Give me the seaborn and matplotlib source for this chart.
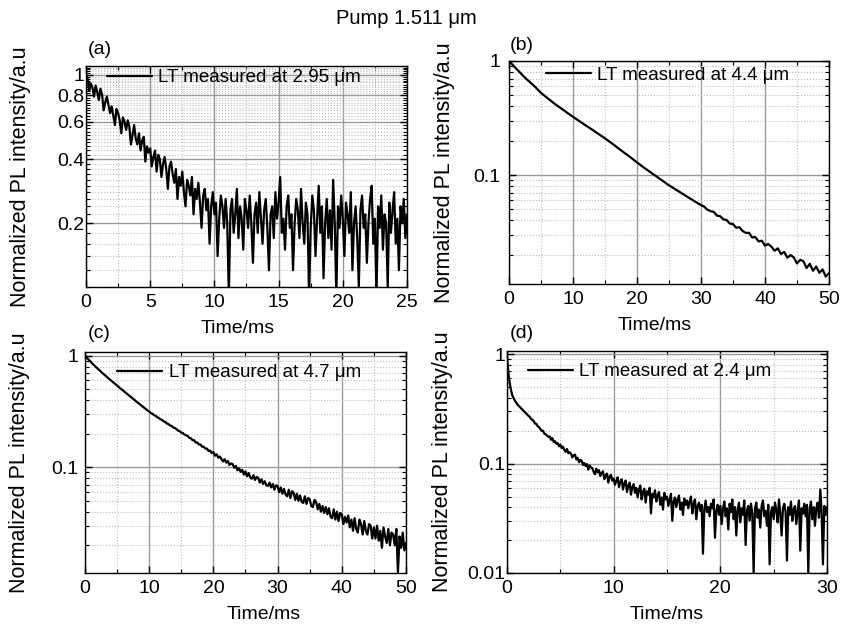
#%% Loading libraries
import numpy as np
import seaborn as sns
import matplotlib.pyplot as plt
from matplotlib.ticker import (FixedLocator, MultipleLocator, LogLocator,
                               NullFormatter, FuncFormatter)

#%% Data (normalized PL decay curves)
# (a) 2.95 um, sampled every 0.125 ms
pl_a = [1.0, 0.96, 0.84, 0.91, 0.87, 0.79, 0.89, 0.83,
        0.76, 0.86, 0.81, 0.68, 0.74, 0.79, 0.72, 0.66,
        0.71, 0.64, 0.58, 0.69, 0.66, 0.61, 0.53, 0.63,
        0.6, 0.55, 0.61, 0.57, 0.47, 0.52, 0.58, 0.5,
        0.47, 0.53, 0.44, 0.49, 0.51, 0.39, 0.46, 0.43,
        0.45, 0.37, 0.41, 0.44, 0.35, 0.42, 0.4, 0.33,
        0.38, 0.41, 0.36, 0.29, 0.37, 0.39, 0.34, 0.31,
        0.36, 0.26, 0.33, 0.3, 0.35, 0.28, 0.24, 0.32,
        0.3, 0.27, 0.33, 0.22, 0.29, 0.26, 0.31, 0.25,
        0.19, 0.27, 0.29, 0.23, 0.26, 0.16, 0.24, 0.28,
        0.22, 0.25, 0.14, 0.21, 0.27, 0.24, 0.19, 0.26,
        0.2, 0.09, 0.23, 0.26, 0.18, 0.22, 0.29, 0.17,
        0.24, 0.21, 0.15, 0.26, 0.23, 0.19, 0.27, 0.2,
        0.13, 0.22, 0.25, 0.18, 0.28, 0.21, 0.16, 0.23,
        0.26, 0.19, 0.12, 0.22, 0.24, 0.17, 0.28, 0.21,
        0.25, 0.33, 0.18, 0.21, 0.15, 0.24, 0.27, 0.19,
        0.22, 0.12, 0.2, 0.26, 0.23, 0.17, 0.29, 0.2,
        0.16, 0.25, 0.22, 0.09, 0.19, 0.27, 0.23, 0.14,
        0.21, 0.3, 0.18, 0.24, 0.11, 0.2, 0.26, 0.17,
        0.23, 0.15, 0.32, 0.2, 0.09, 0.24, 0.19, 0.27,
        0.21, 0.14, 0.25, 0.22, 0.18, 0.28, 0.12, 0.2,
        0.24, 0.17, 0.1, 0.23, 0.27, 0.19, 0.22, 0.13,
        0.2, 0.26, 0.3, 0.16, 0.21, 0.09, 0.24, 0.19,
        0.27, 0.15, 0.22, 0.2, 0.1, 0.25, 0.18, 0.23,
        0.28, 0.16, 0.21, 0.12, 0.24, 0.2, 0.26, 0.17, 0.22]

# (b) 4.4 um, every 0.5 ms
pl_b = [1.0, 0.933, 0.871, 0.815, 0.762, 0.714, 0.673, 0.635, 0.600, 0.561,
        0.525, 0.499, 0.473, 0.450, 0.427, 0.407, 0.389, 0.372, 0.355, 0.339,
        0.324, 0.310, 0.297, 0.284, 0.272, 0.261, 0.250, 0.239, 0.229, 0.219,
        0.210, 0.200, 0.191, 0.182, 0.173, 0.165, 0.157, 0.150, 0.143, 0.136,
        0.129, 0.123, 0.117, 0.112, 0.107, 0.102, 0.0977, 0.0933, 0.0891, 0.0851,
        0.0813, 0.0782, 0.0750, 0.0721, 0.0692, 0.0665, 0.0638, 0.0614, 0.0589, 0.0567,
        0.0546, 0.0529, 0.0497, 0.0483, 0.0475, 0.0441, 0.0436, 0.0409, 0.0404, 0.0376,
        0.0372, 0.0346, 0.0349, 0.0324, 0.0311, 0.0312, 0.0284, 0.0286, 0.0262, 0.0266,
        0.0241, 0.0249, 0.0236, 0.0217, 0.0228, 0.0203, 0.0212, 0.0189, 0.0199, 0.0190,
        0.0168, 0.0181, 0.0176, 0.0153, 0.0167, 0.0145, 0.0158, 0.0139, 0.0149, 0.0129,
        0.0138]

# (c) 4.7 um, every 0.25 ms
pl_c = [1.0, 0.965, 0.931, 0.899, 0.867, 0.839, 0.813, 0.787,
        0.762, 0.740, 0.718, 0.697, 0.676, 0.657, 0.638, 0.620,
        0.603, 0.586, 0.570, 0.555, 0.540, 0.525, 0.509, 0.495,
        0.482, 0.469, 0.457, 0.445, 0.434, 0.422, 0.410, 0.400,
        0.389, 0.379, 0.369, 0.359, 0.350, 0.341, 0.332, 0.323,
        0.316, 0.307, 0.302, 0.294, 0.289, 0.281, 0.277, 0.269,
        0.266, 0.258, 0.255, 0.247, 0.244, 0.237, 0.235, 0.227,
        0.225, 0.220, 0.213, 0.211, 0.204, 0.203, 0.196, 0.194,
        0.191, 0.183, 0.182, 0.175, 0.175, 0.167, 0.167, 0.160,
        0.160, 0.153, 0.153, 0.147, 0.147, 0.140, 0.141, 0.134,
        0.137, 0.127, 0.131, 0.122, 0.125, 0.119, 0.113, 0.118,
        0.110, 0.114, 0.105, 0.108, 0.107, 0.099, 0.103, 0.094,
        0.098, 0.091, 0.095, 0.086, 0.092, 0.083, 0.089, 0.081,
        0.079, 0.085, 0.077, 0.082, 0.080, 0.073, 0.078, 0.071,
        0.075, 0.069, 0.068, 0.073, 0.066, 0.071, 0.063, 0.069,
        0.068, 0.060, 0.066, 0.058, 0.064, 0.057, 0.055, 0.063,
        0.053, 0.061, 0.059, 0.051, 0.058, 0.050, 0.056, 0.049,
        0.048, 0.055, 0.047, 0.053, 0.052, 0.045, 0.044, 0.051,
        0.049, 0.042, 0.047, 0.040, 0.045, 0.039, 0.044, 0.038,
        0.043, 0.036, 0.035, 0.042, 0.034, 0.040, 0.033, 0.039,
        0.038, 0.031, 0.036, 0.032, 0.037, 0.029, 0.034, 0.027,
        0.035, 0.028, 0.026, 0.034, 0.031, 0.025, 0.033, 0.027,
        0.025, 0.031, 0.030, 0.023, 0.029, 0.023, 0.030, 0.022,
        0.027, 0.019, 0.029, 0.024, 0.021, 0.028, 0.020, 0.026,
        0.025, 0.020, 0.028, 0.0115, 0.024, 0.019, 0.026, 0.018,
        0.021]

# (d) 2.4 um, every 0.125 ms
pl_d = [0.95, 0.68, 0.55, 0.47, 0.42, 0.395, 0.375, 0.36,
        0.345, 0.335, 0.325, 0.315, 0.306, 0.297, 0.29, 0.282,
        0.274, 0.268, 0.256, 0.251, 0.246, 0.232, 0.231, 0.219,
        0.216, 0.207, 0.199, 0.2, 0.188, 0.185, 0.18, 0.176,
        0.177, 0.165, 0.171, 0.158, 0.16, 0.152, 0.154, 0.144,
        0.149, 0.139, 0.143, 0.133, 0.128, 0.136, 0.124, 0.127,
        0.123, 0.114, 0.119, 0.121, 0.109, 0.113, 0.103, 0.108,
        0.106, 0.097, 0.101, 0.095, 0.099, 0.088, 0.096, 0.092,
        0.091, 0.084, 0.08, 0.09, 0.083, 0.087, 0.077, 0.082,
        0.085, 0.072, 0.078, 0.081, 0.067, 0.076, 0.079, 0.07,
        0.073, 0.064, 0.07, 0.075, 0.061, 0.068, 0.072, 0.058,
        0.066, 0.07, 0.055, 0.063, 0.067, 0.052, 0.061, 0.065,
        0.054, 0.06, 0.049, 0.058, 0.063, 0.047, 0.055, 0.059,
        0.044, 0.056, 0.052, 0.06, 0.035, 0.053, 0.049, 0.057,
        0.045, 0.051, 0.055, 0.042, 0.049, 0.038, 0.054, 0.047,
        0.05, 0.041, 0.047, 0.053, 0.03, 0.045, 0.049, 0.04,
        0.047, 0.051, 0.038, 0.044, 0.034, 0.048, 0.042, 0.046,
        0.039, 0.045, 0.05, 0.035, 0.043, 0.047, 0.031, 0.041,
        0.044, 0.037, 0.042, 0.015, 0.038, 0.046, 0.036, 0.04,
        0.033, 0.043, 0.039, 0.047, 0.021, 0.037, 0.042, 0.034,
        0.041, 0.028, 0.038, 0.045, 0.033, 0.039, 0.025, 0.043,
        0.036, 0.047, 0.031, 0.04, 0.022, 0.038, 0.044, 0.029,
        0.039, 0.034, 0.046, 0.018, 0.037, 0.041, 0.03, 0.043,
        0.035, 0.01, 0.039, 0.044, 0.032, 0.038, 0.026, 0.041,
        0.046, 0.033, 0.037, 0.027, 0.042, 0.012, 0.036, 0.04,
        0.031, 0.044, 0.038, 0.029, 0.047, 0.035, 0.022, 0.039,
        0.043, 0.036, 0.013, 0.04, 0.034, 0.045, 0.03, 0.038,
        0.041, 0.028, 0.037, 0.046, 0.016, 0.039, 0.035, 0.043,
        0.033, 0.042, 0.01, 0.038, 0.045, 0.031, 0.04, 0.027,
        0.039, 0.044, 0.032, 0.058, 0.036, 0.012, 0.041, 0.034,
        0.04]

time_a = np.arange(len(pl_a)) * 0.125
time_b = np.arange(len(pl_b)) * 0.5
time_c = np.arange(len(pl_c)) * 0.25
time_d = np.arange(len(pl_d)) * 0.125

labels = ["LT measured at 2.95 \u03bcm", "LT measured at 4.4 \u03bcm",
          "LT measured at 4.7 \u03bcm", "LT measured at 2.4 \u03bcm"]

#%% Theming
sns.set_style("ticks")
plt.rcParams['font.family'] = ['Liberation Sans', 'DejaVu Sans']
plt.rcParams['text.color'] = 'black'
plt.rcParams['axes.labelcolor'] = 'black'

fig = plt.figure(figsize=(8.44, 6.3), dpi=100)

# [left, bottom, width, height], x max, y lims, x major/minor, ytick pad, legend anchor, panel tag
panels = [
    dict(rect=[0.1019, 0.5444, 0.3803, 0.3508], t=time_a, y=pl_a, xmax=25,
         ylim=(0.1, 1.1), xmaj=5, xmin=2.5, pad=1, leg=(0.065, 0.985), tag="(a)",
         tagpos=(88, 49), xlab=(0.473, -0.15)),
    dict(rect=[0.6031, 0.5492, 0.3791, 0.3540], t=time_b, y=pl_b, xmax=50,
         ylim=(0.0111, 1.0), xmaj=10, xmin=5, pad=6, leg=(0.115, 0.975), tag="(b)",
         tagpos=(510, 45), xlab=(0.456, -0.15)),
    dict(rect=[0.1007, 0.0905, 0.3803, 0.3508], t=time_c, y=pl_c, xmax=50,
         ylim=(0.0113, 1.08), xmaj=10, xmin=5, pad=5, leg=(0.10, 0.945), tag="(c)",
         tagpos=(88, 333), xlab=(0.558, -0.15)),
    dict(rect=[0.6007, 0.0905, 0.3791, 0.3524], t=time_d, y=pl_d, xmax=30,
         ylim=(0.01, 1.07), xmaj=10, xmin=5, pad=1, leg=(0.065, 0.945), tag="(d)",
         tagpos=(510, 333), xlab=(0.5, -0.15)),
]

for p, lab in zip(panels, labels):
    ax = fig.add_axes(p["rect"])
    sns.lineplot(x=p["t"], y=p["y"], ax=ax, color="black", lw=1.6,
                 estimator=None, sort=False, label=lab)
    ax.set_yscale("log")
    ax.set_xlim(0, p["xmax"])
    ax.set_ylim(*p["ylim"])

    ax.xaxis.set_major_locator(MultipleLocator(p["xmaj"]))
    ax.xaxis.set_minor_locator(MultipleLocator(p["xmin"]))
    if p["tag"] == "(a)":
        ax.yaxis.set_major_locator(FixedLocator([0.2, 0.4, 0.6, 0.8, 1.0]))
        minors = [round(v, 2) for v in np.arange(0.10, 1.11, 0.02)]
        minors = [v for v in minors if v not in (0.2, 0.4, 0.6, 0.8, 1.0)]
        ax.yaxis.set_minor_locator(FixedLocator(minors))
    else:
        ax.yaxis.set_major_locator(FixedLocator([0.01, 0.1, 1.0]))
        ax.yaxis.set_minor_locator(LogLocator(base=10, subs=np.arange(2, 10), numticks=20))
    ax.yaxis.set_major_formatter(FuncFormatter(lambda v, pos: f"{v:g}"))
    ax.yaxis.set_minor_formatter(NullFormatter())

    ax.grid(which="major", color="#9a9a9a", lw=1.0, ls="-")
    ax.grid(which="minor", color="#bdbdbd", lw=0.8, ls=":")
    ax.tick_params(which="both", direction="in", top=True, right=True,
                   labelsize=14, colors="black")
    ax.tick_params(which="major", length=5, width=1)
    ax.tick_params(which="minor", length=3, width=0.8)
    ax.tick_params(axis="y", pad=p["pad"])
    ax.tick_params(axis="x", pad=5)
    for s in ax.spines.values():
        s.set_color("black")
        s.set_linewidth(1.0)

    ax.set_xlabel("Time/ms", fontsize=14)
    ax.xaxis.set_label_coords(*p["xlab"])
    ax.set_ylabel("Normalized PL intensity/a.u", fontsize=15.5)
    ax.yaxis.set_label_coords(-0.17, 0.5)

    ax.legend(loc="upper left", bbox_to_anchor=p["leg"], frameon=False,
              fontsize=13.5, handlelength=2.4, handletextpad=0.35,
              borderaxespad=0, borderpad=0)

    fig.text(p["tagpos"][0] / 844, 1 - p["tagpos"][1] / 630, p["tag"],
             fontsize=14, ha="left", va="center")

# Add title
fig.text(406 / 844, 1 - 18 / 630, "Pump 1.511 \u03bcm", fontsize=14.5,
         ha="center", va="center")

plt.savefig("out.png", dpi=100)
